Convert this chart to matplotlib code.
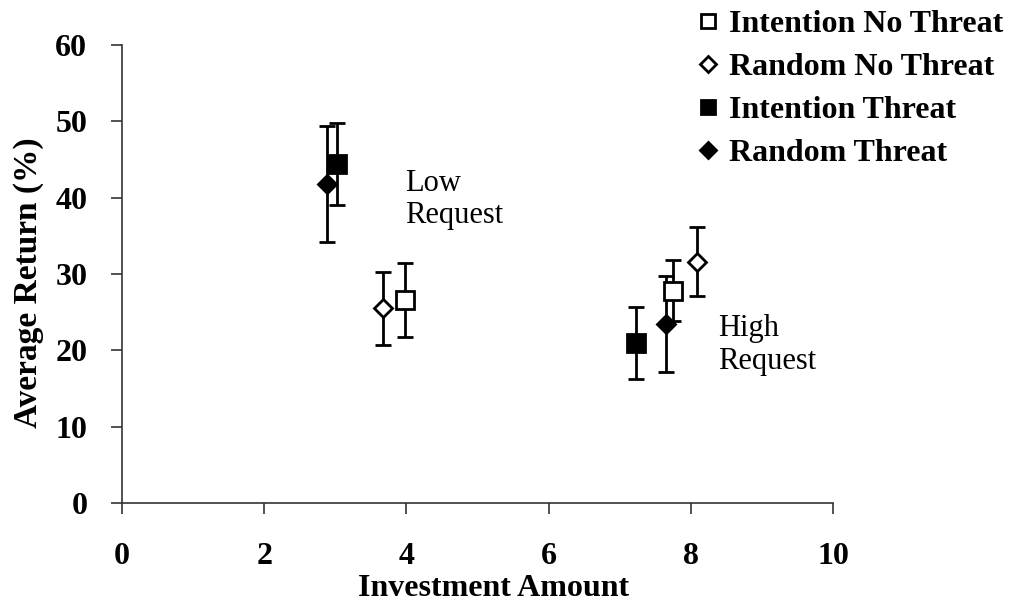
import matplotlib.pyplot as plt

# (x, y, err), one list per condition
labels = ["Intention No Threat", "Random No Threat", "Intention Threat", "Random Threat"]
inv_int_nothreat = [3.98, 7.75]
ret_int_nothreat = [26.6, 27.8]
err_int_nothreat = [4.8, 4.0]

inv_rnd_nothreat = [3.67, 8.08]
ret_rnd_nothreat = [25.5, 31.6]
err_rnd_nothreat = [4.8, 4.5]

inv_int_threat = [3.02, 7.23]
ret_int_threat = [44.4, 21.0]
err_int_threat = [5.4, 4.7]

inv_rnd_threat = [2.88, 7.65]
ret_rnd_threat = [41.8, 23.5]
err_rnd_threat = [7.6, 6.3]

plt.rcParams['font.family'] = ['Liberation Serif', 'DejaVu Serif']

fig = plt.figure(figsize=(10.1, 6.03), dpi=100)
ax = fig.add_axes([0.1208, 0.1658, 0.7040, 0.7596])

series = [
    (inv_int_nothreat, ret_int_nothreat, err_int_nothreat, 's', 'white', 12.5),
    (inv_rnd_nothreat, ret_rnd_nothreat, err_rnd_nothreat, 'D', 'white', 9.5),
    (inv_int_threat, ret_int_threat, err_int_threat, 's', 'black', 12.5),
    (inv_rnd_threat, ret_rnd_threat, err_rnd_threat, 'D', 'black', 9.5),
]
handles = []
for (x, y, e, m, fc, ms), lab in zip(series, labels):
    ax.errorbar(x, y, yerr=e, fmt='none', ecolor='black', elinewidth=2,
                capsize=5.5, capthick=2, zorder=2)
    h, = ax.plot(x, y, linestyle='none', marker=m, markersize=ms,
                 markerfacecolor=fc, markeredgecolor='black',
                 markeredgewidth=2, zorder=3, label=lab)
    handles.append(h)

ax.set_xlim(0, 10)
ax.set_ylim(0, 60)
ax.set_xticks(range(0, 11, 2))
ax.set_yticks(range(0, 61, 10))
for s in ['top', 'right']:
    ax.spines[s].set_visible(False)
for s in ['left', 'bottom']:
    ax.spines[s].set_color('#333333')
    ax.spines[s].set_linewidth(1.2)
ax.tick_params(axis='both', direction='out', length=8, width=1.2,
               color='#333333', labelsize=23)
ax.tick_params(axis='x', pad=20)
ax.tick_params(axis='y', pad=17)
for t in ax.get_xticklabels() + ax.get_yticklabels():
    t.set_fontweight('bold')

ax.set_xlabel("Investment Amount", fontsize=23, fontweight='bold', labelpad=2)
ax.set_ylabel("Average Return (%)", fontsize=24, fontweight='bold', labelpad=8)
ax.xaxis.label.set_x(0.522)
ax.yaxis.label.set_y(0.482)

ax.text(3.98, 43.8, "Low\nRequest", fontsize=22, ha='left', va='top',
        linespacing=1.15)
ax.text(8.38, 24.7, "High\nRequest", fontsize=22, ha='left', va='top',
        linespacing=1.15)

fig.legend(handles=handles, loc='upper right', bbox_to_anchor=(1.012, 1.015),
           frameon=False, prop={'size': 23, 'weight': 'bold'},
           handlelength=0.6, handletextpad=0.35, labelspacing=0.42,
           markerscale=0.85, borderaxespad=0.2)

fig.savefig("out.png", dpi=100)
